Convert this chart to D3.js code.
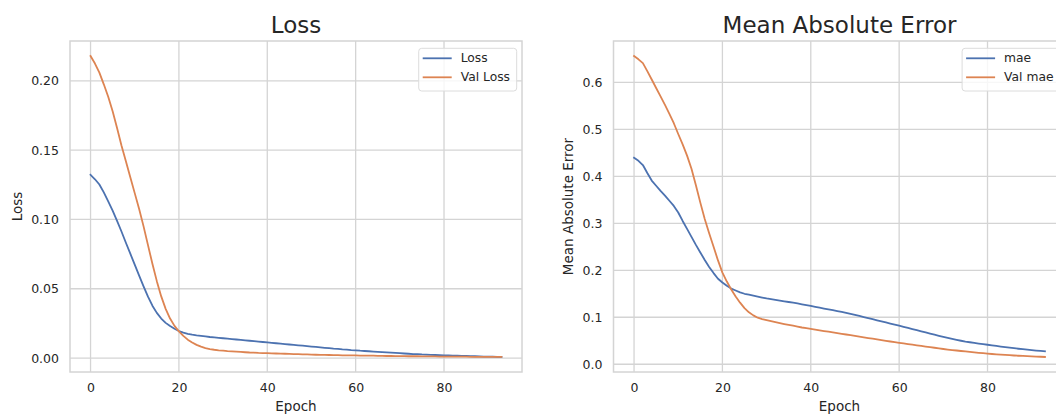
<!DOCTYPE html>
<html>
<head>
<meta charset="utf-8">
<script src="https://cdn.jsdelivr.net/npm/d3@7"></script>
<style>
  html, body { margin: 0; padding: 0; background: #ffffff; }
  svg { display: block; font-family: "DejaVu Sans", sans-serif; }
</style>
</head>
<body>
<svg id="chart" width="1056" height="415"></svg>
<script>
// ---------------- data ----------------
const epochs = d3.range(0, 94);

const loss = [
  0.1322, 0.1290, 0.1252, 0.1195, 0.1130, 0.1064, 0.0990, 0.0913, 0.0832, 0.0753,
  0.0674, 0.0595, 0.0517, 0.0443, 0.0378, 0.0326, 0.0285, 0.0254, 0.0231, 0.0212,
  0.0195, 0.0183, 0.0175, 0.0169, 0.0164, 0.0160, 0.0156, 0.0152, 0.0149, 0.0146,
  0.0143, 0.0140, 0.0137, 0.0134, 0.0131, 0.0128, 0.0125, 0.0122, 0.0119, 0.0116,
  0.0113, 0.0110, 0.0107, 0.0104, 0.0101, 0.0098, 0.0095, 0.0092, 0.0089, 0.0086,
  0.0083, 0.0080, 0.0077, 0.0074, 0.0071, 0.0068, 0.0066, 0.0063, 0.0061, 0.0058,
  0.0056, 0.0053, 0.0051, 0.0049, 0.0047, 0.0045, 0.0043, 0.0041, 0.0039, 0.0037,
  0.0035, 0.0033, 0.0031, 0.0029, 0.0028, 0.0026, 0.0025, 0.0023, 0.0022, 0.0021,
  0.0020, 0.0019, 0.0018, 0.0017, 0.0016, 0.0015, 0.0014, 0.0013, 0.0012, 0.0011,
  0.0010, 0.0010, 0.0009, 0.0009
];

const valLoss = [
  0.2179, 0.2125, 0.2059, 0.1975, 0.1885, 0.1780, 0.1660, 0.1533, 0.1420, 0.1305,
  0.1190, 0.1075, 0.0950, 0.0815, 0.0680, 0.0555, 0.0445, 0.0355, 0.0285, 0.0232,
  0.0193, 0.0160, 0.0133, 0.0112, 0.0095, 0.0082, 0.0072, 0.0065, 0.0060, 0.0056,
  0.0053, 0.0050, 0.0048, 0.0046, 0.0044, 0.0042, 0.0040, 0.0039, 0.0037, 0.0036,
  0.0035, 0.0034, 0.0033, 0.0032, 0.0031, 0.0030, 0.0029, 0.0028, 0.0027, 0.0026,
  0.0025, 0.0024, 0.0023, 0.0023, 0.0022, 0.0021, 0.0021, 0.0020, 0.0020, 0.0019,
  0.0019, 0.0018, 0.0018, 0.0017, 0.0017, 0.0016, 0.0016, 0.0015, 0.0015, 0.0014,
  0.0014, 0.0014, 0.0013, 0.0013, 0.0013, 0.0012, 0.0012, 0.0012, 0.0012, 0.0011,
  0.0011, 0.0011, 0.0010, 0.0010, 0.0010, 0.0010, 0.0009, 0.0009, 0.0009, 0.0009,
  0.0008, 0.0008, 0.0008, 0.0008
];

const mae = [
  0.4395, 0.4330, 0.4240, 0.4070, 0.3910, 0.3800, 0.3690, 0.3590, 0.3480, 0.3370,
  0.3230, 0.3050, 0.2880, 0.2710, 0.2540, 0.2380, 0.2220, 0.2070, 0.1940, 0.1820,
  0.1740, 0.1670, 0.1610, 0.1570, 0.1530, 0.1500, 0.1480, 0.1460, 0.1440, 0.1420,
  0.1400, 0.1385, 0.1370, 0.1355, 0.1340, 0.1325, 0.1310, 0.1294, 0.1276, 0.1258,
  0.1240, 0.1222, 0.1204, 0.1186, 0.1168, 0.1150, 0.1132, 0.1113, 0.1094, 0.1072,
  0.1050, 0.1028, 0.1005, 0.0982, 0.0959, 0.0936, 0.0913, 0.0890, 0.0867, 0.0844,
  0.0820, 0.0796, 0.0772, 0.0748, 0.0724, 0.0700, 0.0676, 0.0652, 0.0629, 0.0606,
  0.0583, 0.0561, 0.0540, 0.0520, 0.0500, 0.0482, 0.0468, 0.0454, 0.0441, 0.0428,
  0.0415, 0.0402, 0.0389, 0.0376, 0.0364, 0.0352, 0.0341, 0.0330, 0.0320, 0.0310,
  0.0300, 0.0291, 0.0283, 0.0276
];

const valMae = [
  0.6560, 0.6490, 0.6410, 0.6240, 0.6060, 0.5880, 0.5700, 0.5520, 0.5330, 0.5130,
  0.4900, 0.4680, 0.4440, 0.4160, 0.3810, 0.3440, 0.3090, 0.2790, 0.2500, 0.2210,
  0.1950, 0.1760, 0.1590, 0.1440, 0.1310, 0.1195, 0.1105, 0.1040, 0.0990, 0.0962,
  0.0938, 0.0916, 0.0895, 0.0875, 0.0856, 0.0838, 0.0820, 0.0800, 0.0782, 0.0767,
  0.0752, 0.0737, 0.0722, 0.0707, 0.0692, 0.0677, 0.0662, 0.0647, 0.0633, 0.0618,
  0.0603, 0.0588, 0.0573, 0.0558, 0.0543, 0.0528, 0.0513, 0.0498, 0.0484, 0.0469,
  0.0455, 0.0442, 0.0429, 0.0416, 0.0403, 0.0390, 0.0377, 0.0364, 0.0351, 0.0338,
  0.0324, 0.0312, 0.0302, 0.0292, 0.0282, 0.0272, 0.0262, 0.0253, 0.0244, 0.0235,
  0.0226, 0.0218, 0.0211, 0.0204, 0.0198, 0.0192, 0.0186, 0.0181, 0.0176, 0.0171,
  0.0167, 0.0163, 0.0159, 0.0155
];

const xTicks = [0, 20, 40, 60, 80];
const lossTicks = [0.00, 0.05, 0.10, 0.15, 0.20];
const maeTicks = [0.0, 0.1, 0.2, 0.3, 0.4, 0.5, 0.6];

const titles = ["Loss", "Mean Absolute Error"];
const yLabels = ["Loss", "Mean Absolute Error"];
const xLabel = "Epoch";
const legendLoss = ["Loss", "Val Loss"];
const legendMae = ["mae", "Val mae"];

// ---------------- drawing ----------------
const svg = d3.select("#chart");
const BLUE = "#4c72b0", ORANGE = "#dd8452";
const TEXT = "#262626", GRID = "#d4d4d4";

function panel(opts) {
  const { left, right, top, bottom, series, names, ticks, fmt, title, ylabel, ylabelX } = opts;
  const g = svg.append("g");

  // matplotlib-like 5% margins
  const xmin = d3.min(epochs), xmax = d3.max(epochs);
  const xm = (xmax - xmin) * 0.05;
  const all = series.flat();
  const ymin = d3.min(all), ymax = d3.max(all);
  const ym = (ymax - ymin) * 0.05;

  const x = d3.scaleLinear().domain([xmin - xm, xmax + xm]).range([left, right]);
  const y = d3.scaleLinear().domain([ymin - ym, ymax + ym]).range([bottom, top]);

  // grid
  g.selectAll(".gx").data(xTicks).enter().append("line")
    .attr("x1", d => x(d)).attr("x2", d => x(d))
    .attr("y1", top).attr("y2", bottom)
    .attr("stroke", GRID).attr("stroke-width", 1.3);
  g.selectAll(".gy").data(ticks).enter().append("line")
    .attr("x1", left).attr("x2", right)
    .attr("y1", d => y(d)).attr("y2", d => y(d))
    .attr("stroke", GRID).attr("stroke-width", 1.3);

  // frame
  g.append("rect").attr("x", left).attr("y", top)
    .attr("width", right - left).attr("height", bottom - top)
    .attr("fill", "none").attr("stroke", GRID).attr("stroke-width", 1.5);

  // axes labels via d3 axes
  const xAxis = d3.axisBottom(x).tickValues(xTicks).tickSize(0).tickPadding(11).tickFormat(d3.format("d"));
  const xa = g.append("g").attr("transform", `translate(0,${bottom})`).call(xAxis);
  xa.select(".domain").remove();
  xa.selectAll("text").attr("fill", TEXT).style("font-size", "12.5px").style("font-family", "DejaVu Sans");

  const yAxis = d3.axisLeft(y).tickValues(ticks).tickSize(0).tickPadding(11).tickFormat(d3.format(fmt));
  const ya = g.append("g").attr("transform", `translate(${left},0)`).call(yAxis);
  ya.select(".domain").remove();
  ya.selectAll("text").attr("fill", TEXT).style("font-size", "12.5px").style("font-family", "DejaVu Sans");

  // lines
  const colors = [BLUE, ORANGE];
  series.forEach((s, i) => {
    const line = d3.line().x((d, j) => x(epochs[j])).y(d => y(d));
    g.append("path").datum(s).attr("d", line)
      .attr("fill", "none").attr("stroke", colors[i])
      .attr("stroke-width", 1.8).attr("stroke-linejoin", "round").attr("stroke-linecap", "square");
  });

  // title
  g.append("text").attr("x", (left + right) / 2).attr("y", 33)
    .attr("text-anchor", "middle").attr("fill", TEXT)
    .style("font-size", "23px").text(title);

  // x label
  g.append("text").attr("x", (left + right) / 2).attr("y", 411)
    .attr("text-anchor", "middle").attr("fill", TEXT)
    .style("font-size", "13.5px").text(xLabel);

  // y label
  g.append("text")
    .attr("transform", `translate(${ylabelX},${(top + bottom) / 2}) rotate(-90)`)
    .attr("text-anchor", "middle").attr("dominant-baseline", "central").attr("fill", TEXT)
    .style("font-size", "13.5px").text(ylabel);

  // legend
  const lg = g.append("g");
  const box = lg.append("rect");
  const texts = names.map((n, i) => lg.append("text")
    .attr("y", top + 17.3 + i * 19).attr("dominant-baseline", "central")
    .attr("fill", TEXT).style("font-size", "12.3px").text(n));
  const tw = d3.max(texts, t => t.node().getComputedTextLength());
  const boxRight = right - 5.3;
  const boxW = 42 + tw + 6.7;
  const boxLeft = boxRight - boxW;
  texts.forEach(t => t.attr("x", boxLeft + 42));
  names.forEach((n, i) => {
    lg.append("line").attr("x1", boxLeft + 4).attr("x2", boxLeft + 33)
      .attr("y1", top + 17.3 + i * 19).attr("y2", top + 17.3 + i * 19)
      .attr("stroke", colors[i]).attr("stroke-width", 1.8);
  });
  box.attr("x", boxLeft).attr("y", top + 7.3).attr("width", boxW).attr("height", 42.7)
    .attr("rx", 3).attr("fill", "#ffffff").attr("fill-opacity", 0.8)
    .attr("stroke", "#dcdcdc").attr("stroke-width", 1);
}

panel({
  left: 70, right: 522, top: 41, bottom: 372,
  series: [loss, valLoss], names: legendLoss, ticks: lossTicks, fmt: ".2f",
  title: titles[0], ylabel: yLabels[0], ylabelX: 17
});

panel({
  left: 613.5, right: 1065.5, top: 41, bottom: 372,
  series: [mae, valMae], names: legendMae, ticks: maeTicks, fmt: ".1f",
  title: titles[1], ylabel: yLabels[1], ylabelX: 568
});
</script>
</body>
</html>
